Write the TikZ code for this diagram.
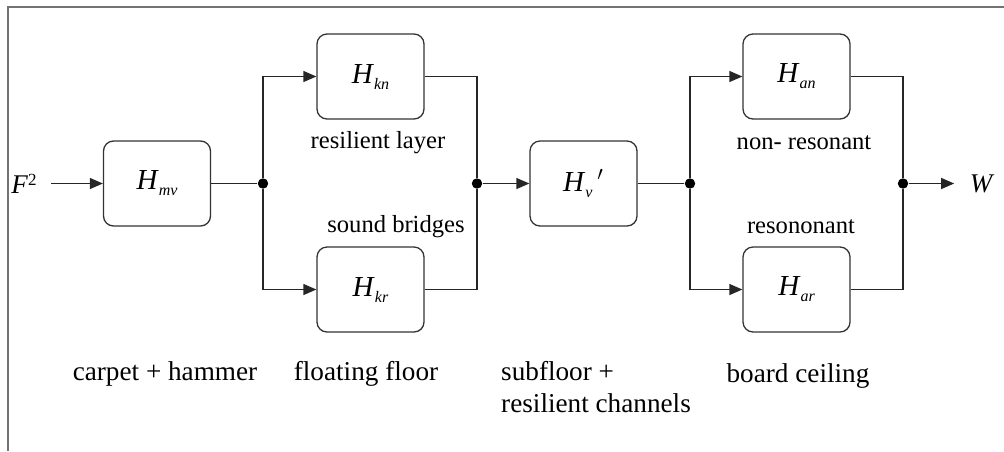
\documentclass[tikz,border=0pt]{standalone}
\usepackage{fontspec}
\setmainfont{Liberation Serif}
\usetikzlibrary{arrows.meta}
\newcommand\Hsub[1]{\textit{H}\raisebox{-3pt}{\fontsize{8}{9}\selectfont\itshape #1}}
\begin{document}
\begin{tikzpicture}[x=0.5pt,y=-0.5pt,
  blk/.style={draw=black!80, line width=0.65pt, rounded corners=5pt, minimum width=53.5pt, minimum height=42.5pt, inner sep=0pt, font=\fontsize{14.5}{16}\selectfont},
  wire/.style={line width=0.65pt, draw=black!85},
  arr/.style={wire, -{Triangle[length=6.5pt,width=5.5pt]}},
  jdot/.style={circle, fill=black, inner sep=0pt, minimum size=5.2pt},
  lbl/.style={inner sep=0pt, font=\fontsize{13.6}{16}\selectfont},
  tlbl/.style={inner sep=0pt, font=\fontsize{12.3}{15}\selectfont},
  sym/.style={inner sep=0pt, font=\fontsize{13.5}{15}\selectfont}]
\useasboundingbox (0,0) rectangle (1004,451);
% partial frame
\draw[line width=1pt, draw=black!55] (7.5,451) -- (7.5,7) -- (1004,7);

% blocks
\node[blk] (mv) at (157,183.5) {\Hsub{mv}};
\node[blk] (kn) at (370.5,76.5) {\Hsub{kn}};
\node[blk] (kr) at (370.5,289.5) {\Hsub{kr}};
\node[blk] (v)  at (583.5,183.5) {\Hsub{v}\,\textit{$'$}};
\node[blk] (an) at (796.5,76.5) {\Hsub{an}};
\node[blk] (ar) at (796.5,289.5) {\Hsub{ar}};

% junctions
\node[jdot] (j1) at (263,183.5) {};
\node[jdot] (j2) at (477,183.5) {};
\node[jdot] (j3) at (690,183.5) {};
\node[jdot] (j4) at (903,183.5) {};

% input / output
\node[sym, inner xsep=7pt] (F) at (24,183.5) {\textit{F}\raisebox{4pt}{\fontsize{8.5}{9}\selectfont 2}};
\node[sym, inner xsep=7.6pt] (W) at (982,183.5) {\textit{W}};

% connectors
\draw[arr] (F) -- (mv);
\draw[wire] (mv) -- (j1);
\draw[arr] (j1) |- (kn);
\draw[arr] (j1) |- (kr);
\draw[wire] (kn) -| (j2);
\draw[wire] (kr) -| (j2);
\draw[arr] (j2) -- (v);
\draw[wire] (v) -- (j3);
\draw[arr] (j3) |- (an);
\draw[arr] (j3) |- (ar);
\draw[wire] (an) -| (j4);
\draw[wire] (ar) -| (j4);
\draw[arr] (j4) -- (W);

% labels
\node[tlbl] (l1) at (378,143) {resilient layer};
\node[tlbl] (l2) at (396,227) {sound bridges};
\node[tlbl] (l3) at (804,143) {non- resonant};
\node[tlbl] (l4) at (801,227) {resononant};
\node[lbl] (l5) at (165,374) {carpet + hammer};
\node[lbl] (l6) at (366,374) {floating floor};
\node[lbl, align=left] (l7) at (596,387) {subfloor +\\resilient channels};
\node[lbl] (l8) at (798,376) {board ceiling};
\end{tikzpicture}
\end{document}
